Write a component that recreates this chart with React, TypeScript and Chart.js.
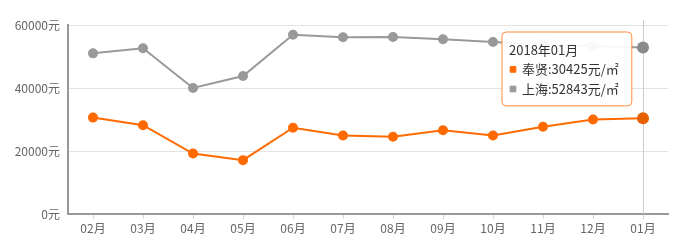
import React, { useEffect, useRef } from "react";
import { Chart, registerables, Tooltip } from "chart.js";

Chart.register(...registerables);

const categories = ["02月", "03月", "04月", "05月", "06月", "07月", "08月", "09月", "10月", "11月", "12月", "01月"];
const fullLabels = ["2017年02月", "2017年03月", "2017年04月", "2017年05月", "2017年06月", "2017年07月", "2017年08月", "2017年09月", "2017年10月", "2017年11月", "2017年12月", "2018年01月"];
const fengxian = [30600, 28200, 19200, 17100, 27400, 24900, 24500, 26600, 24900, 27700, 30000, 30425];
const shanghai = [51000, 52600, 40000, 43800, 56900, 56100, 56200, 55500, 54600, 53800, 53300, 52843];
const yTicks = [0, 20000, 40000, 60000];
const activeIndex = 11;

const FONT = '"Noto Sans CJK SC", "Noto Sans", sans-serif';

(Tooltip as any).positioners.fixedBox = function () {
  return { x: 506, y: 32 };
};

const crosshair = {
  id: "crosshair",
  beforeDatasetsDraw(chart: any) {
    const active = chart.getActiveElements();
    if (!active.length) return;
    const x = active[0].element.x;
    const { top, bottom } = chart.chartArea;
    const ctx = chart.ctx;
    ctx.save();
    ctx.strokeStyle = "#cccccc";
    ctx.lineWidth = 1;
    ctx.beginPath();
    ctx.moveTo(Math.round(x) + 0.5, top - 5);
    ctx.lineTo(Math.round(x) + 0.5, bottom);
    ctx.stroke();
    ctx.restore();
  },
};

export default function App() {
  const ref = useRef<HTMLCanvasElement | null>(null);
  useEffect(() => {
    document.body.style.margin = "0";
    const chart = new Chart(ref.current!, {
      type: "line",
      data: {
        labels: categories,
        datasets: [
          {
            label: "奉贤",
            data: fengxian,
            borderColor: "#ff6a00",
            backgroundColor: "#ff6a00",
            pointBackgroundColor: "#ff6a00",
            pointBorderColor: "#ff6a00",
            borderWidth: 2,
            pointRadius: 4,
            pointHoverRadius: 6,
            pointHoverBorderWidth: 0,
            tension: 0,
          },
          {
            label: "上海",
            data: shanghai,
            borderColor: "#999999",
            backgroundColor: "#999999",
            pointBackgroundColor: "#999999",
            pointBorderColor: "#999999",
            borderWidth: 2,
            pointRadius: 4,
            pointHoverRadius: 6,
            pointHoverBorderWidth: 0,
            tension: 0,
          },
        ],
      },
      plugins: [crosshair],
      options: {
        responsive: false,
        animation: false,
        events: [],
        layout: { padding: { left: 0, right: 12, top: 25, bottom: 0 } },
        plugins: {
          legend: { display: false },
          tooltip: {
            enabled: true,
            position: "fixedBox" as any,
            xAlign: "left",
            yAlign: "top",
            caretSize: 0,
            caretPadding: 0,
            backgroundColor: "rgba(255,255,255,0.93)",
            borderColor: "#ff8a3d",
            borderWidth: 1,
            cornerRadius: 4,
            titleColor: "#333333",
            bodyColor: "#333333",
            titleFont: { family: FONT, size: 13, weight: "normal" },
            bodyFont: { family: FONT, size: 13 },
            padding: { left: 7, right: 13, top: 10, bottom: 9 },
            titleMarginBottom: 4,
            bodySpacing: 4,
            usePointStyle: true,
            boxWidth: 8,
            boxHeight: 8,
            boxPadding: 3,
            callbacks: {
              title: (items: any[]) => fullLabels[items[0].dataIndex],
              label: (item: any) => `${item.dataset.label}:${item.raw}元/㎡`,
              labelPointStyle: () => ({ pointStyle: "rect", rotation: 0 }),
              labelColor: (item: any) => ({
                borderColor: item.dataset.borderColor,
                backgroundColor: item.dataset.borderColor,
                borderWidth: 1,
              }),
            },
          },
        },
        scales: {
          x: {
            type: "category",
            offset: true,
            grid: {
              offset: false,
              drawOnChartArea: false,
              drawTicks: true,
              tickLength: 5,
              color: "#ccd6eb",
            },
            border: { display: true, color: "#999999", width: 2 },
            ticks: {
              color: "#666666",
              font: { family: FONT, size: 12 },
              padding: 2,
              maxRotation: 0,
              autoSkip: false,
            },
            afterFit: (s: any) => {
              s.height = 38;
            },
          },
          y: {
            min: 0,
            max: 60000,
            afterBuildTicks: (s: any) => {
              s.ticks = yTicks.map((v) => ({ value: v }));
            },
            grid: { color: "#e3e3e3", drawTicks: false, lineWidth: 1 },
            border: { display: true, color: "#999999", width: 2 },
            ticks: {
              color: "#666666",
              font: { family: FONT, size: 12 },
              padding: 8,
              callback: (v: any) => `${v}元`,
            },
            afterFit: (s: any) => {
              s.width = 68;
            },
          },
        },
      },
    });
    const act = [
      { datasetIndex: 0, index: activeIndex },
      { datasetIndex: 1, index: activeIndex },
    ];
    chart.setActiveElements(act);
    chart.tooltip!.setActiveElements(act, { x: 643, y: 100 });
    chart.update();
    return () => chart.destroy();
  }, []);
  return (
    <div style={{ position: "absolute", left: 0, top: 0, width: 680, height: 252 }}>
      <canvas ref={ref} width={680} height={252} style={{ width: 680, height: 252 }} />
    </div>
  );
}
